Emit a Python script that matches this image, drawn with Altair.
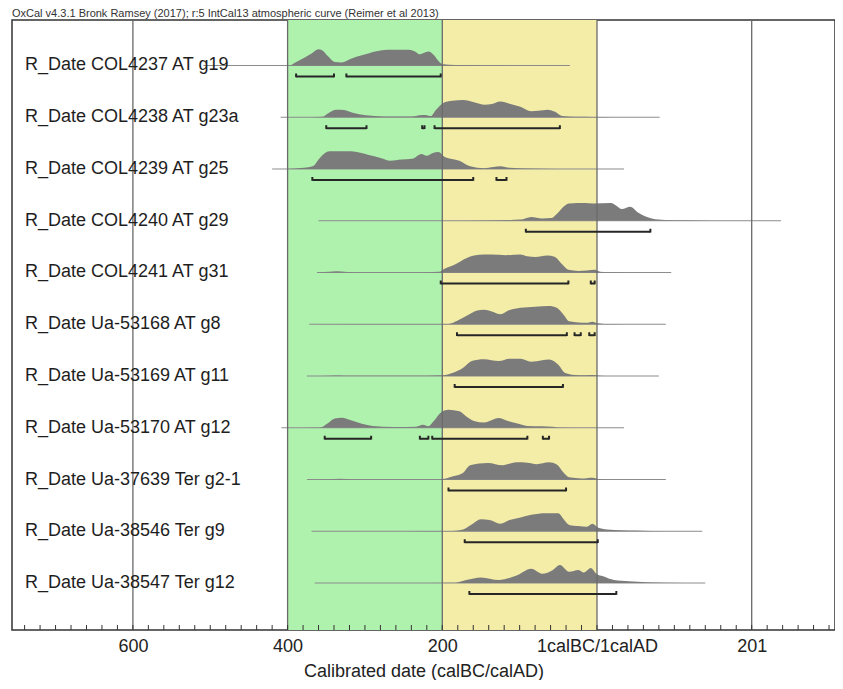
import altair as alt
import pandas as pd

header = "OxCal v4.3.1 Bronk Ramsey (2017); r:5 IntCal13 atmospheric curve (Reimer et al 2013)"

labels = [
    "R_Date COL4237 AT g19", "R_Date COL4238 AT g23a", "R_Date COL4239 AT g25",
    "R_Date COL4240 AT g29", "R_Date COL4241 AT g31", "R_Date Ua-53168 AT g8",
    "R_Date Ua-53169 AT g11", "R_Date Ua-53170 AT g12", "R_Date Ua-37639 Ter g2-1",
    "R_Date Ua-38546 Ter g9", "R_Date Ua-38547 Ter g12",
]

# probability curves (year: negative = BC, 0 = 1calBC/1calAD boundary), relative density
dens_years = [
    [-410, -397, -390, -379, -369, -360, -355, -348, -339, -330, -318, -304, -285, -271, -243, -236, -229, -218, -211, -204, -199, -183, -145, -100],
    [-370, -355, -348, -337, -327, -316, -299, -276, -239, -229, -222, -215, -208, -197, -187, -173, -159, -145, -136, -125, -113, -99, -85, -76, -64, -55, -45, -29, -6, 20],
    [-402, -379, -367, -358, -346, -318, -306, -295, -281, -267, -253, -239, -227, -220, -213, -205, -197, -178, -164, -146, -134, -125, -113, -90, -52, -20],
    [-200, -145, -99, -85, -71, -59, -52, -43, -36, -15, -6, 18, 25, 32, 43, 53, 62, 71, 88, 116, 148, 180],
    [-362, -346, -337, -323, -300, -239, -204, -197, -183, -169, -159, -146, -127, -118, -99, -90, -80, -64, -55, -45, -37, -24, -13, -3, 4, 22, 60],
    [-372, -250, -192, -180, -169, -155, -146, -134, -125, -113, -99, -80, -62, -52, -43, -36, -24, -13, -6, 1, 18, 60],
    [-375, -346, -332, -318, -220, -199, -187, -173, -162, -146, -127, -113, -99, -85, -71, -62, -50, -41, -24, -6, 4, 18, 60],
    [-400, -358, -348, -339, -330, -318, -304, -290, -262, -234, -225, -218, -211, -201, -192, -178, -169, -159, -146, -127, -118, -104, -90, -71, -57, -48, -20],
    [-375, -346, -332, -318, -250, -201, -187, -173, -164, -141, -122, -104, -90, -78, -62, -52, -43, -36, -20, -6, 4, 22, 60],
    [-369, -250, -192, -173, -162, -150, -139, -125, -113, -99, -85, -66, -50, -43, -36, -24, -13, -6, 1, 13, 32, 50, 69, 111, 136],
    [-365, -250, -183, -169, -150, -127, -104, -85, -71, -57, -48, -36, -24, -17, -8, -1, 8, 22, 41, 64, 88, 140],
]
dens_vals = [
    [0, 0.5, 8, 20, 32, 43, 40, 25, 9, 8, 18, 27, 38, 42, 42, 38, 30, 37, 28, 10, 3, 1, 0.5, 0],
    [0, 1, 10, 20, 19, 12, 5, 2, 2, 5, 6, 3, 20, 40, 44, 46, 40, 33, 35, 42, 36, 28, 16, 17, 20, 15, 3, 1, 0.5, 0],
    [0, 3, 8, 30, 47, 47, 43, 37, 30, 22, 25, 27, 40, 35, 42, 45, 32, 22, 7, 2, 5, 7, 3, 1, 0.3, 0],
    [0, 0.5, 3, 10, 6, 7, 18, 38, 46, 47, 46, 47, 40, 31, 37, 22, 12, 6, 2, 1, 0.3, 0],
    [0, 2, 3, 1, 0.5, 0.5, 2, 10, 22, 38, 45, 48, 47, 46, 48, 43, 41, 45, 42, 22, 7, 4, 5, 7, 2, 0.5, 0],
    [0, 0.5, 1, 10, 22, 37, 39, 33, 27, 38, 44, 47, 49, 44, 25, 8, 5, 4, 7, 3, 0.5, 0],
    [0, 1, 1.5, 0.5, 1, 2, 8, 22, 40, 45, 40, 46, 46, 38, 42, 44, 30, 8, 2, 3, 1, 0.3, 0],
    [0, 1, 12, 25, 27, 20, 11, 5, 2, 3, 8, 4, 18, 42, 48, 44, 30, 18, 14, 26, 20, 12, 5, 4, 3, 0.5, 0],
    [0, 1, 2, 1, 0.5, 1, 8, 18, 38, 44, 38, 46, 45, 41, 46, 40, 18, 6, 3, 5, 1, 0.3, 0],
    [0, 0.3, 0.5, 5, 18, 32, 30, 20, 30, 37, 44, 48, 48, 32, 17, 14, 12, 20, 10, 5, 3, 2, 1, 0.3, 0],
    [0, 0.3, 1, 8, 15, 8, 20, 38, 25, 35, 48, 30, 35, 28, 40, 25, 18, 8, 5, 2, 0.5, 0],
]

# extent of each curve's thin line
line_start = [-509, -409, -420, -360, -362, -372, -375, -408, -375, -369, -365]
line_end = [-35, 81, 35, 238, 96, 89, 80, 35, 89, 136, 140]

# highest posterior density ranges
ranges = [
    [(-389, -340), (-324, -202)],
    [(-350, -298), (-226, -223), (-210, -48)],
    [(-368, -160), (-130, -117)],
    [(-92, 69)],
    [(-202, -37), (-8, -3)],
    [(-181, -39), (-29, -21), (-10, -3)],
    [(-184, -44)],
    [(-352, -292), (-229, -218), (-213, -90), (-70, -62)],
    [(-192, -40)],
    [(-171, 1)],
    [(-165, 25)],
]

band_names = ["green", "yellow"]
band_start = [-400, -200]
band_end = [-200, 0]

major_ticks = [-600, -400, -200, 0, 200]
minor_ticks = list(range(-740, 301, 20))

# ---------------- layout constants ----------------
W, H = 823, 610
ROW_PX = 51.75
K = 18.0 / 48 / ROW_PX          # density units -> row units
BRK = 11 / ROW_PX               # bracket offset below baseline
BRK_TICK = 3 / ROW_PX           # bracket end tick height

XS = alt.Scale(domain=[-756.3, 307.7], nice=False, zero=False)
YS = alt.Scale(domain=[-0.879, 10.908], nice=False, zero=False, reverse=True)

# ---------------- tables ----------------
dens_rows = []
for i, (ys, vs) in enumerate(zip(dens_years, dens_vals)):
    for y, v in zip(ys, vs):
        dens_rows.append({"grp": f"r{i}", "yb": float(i), "year": y, "dens": v})
dens_df = pd.DataFrame(dens_rows)

lab_df = pd.DataFrame({"idx": [float(i) for i in range(len(labels))], "label": labels,
                       "start": line_start, "end": line_end})

rng_rows = []
end_rows = []
for i, rr in enumerate(ranges):
    for a, b in rr:
        rng_rows.append({"idx": float(i), "a": a, "b": b})
        end_rows.append({"idx": float(i), "x": a})
        end_rows.append({"idx": float(i), "x": b})
rng_df = pd.DataFrame(rng_rows)
end_df = pd.DataFrame(end_rows)

band_df = pd.DataFrame({"band": band_names, "start": band_start, "end": band_end})
major_df = pd.DataFrame({"t": major_ticks})
minor_df = pd.DataFrame({"t": minor_ticks})

label_expr = ("datum.value == 0 ? '1calBC/1calAD' : "
              "(datum.value < 0 ? toString(-datum.value) : toString(datum.value + 1))")
XAXIS = alt.Axis(values=major_ticks, labelExpr=label_expr, grid=False, ticks=False,
                 tickSize=0, domain=False, labelFontSize=18, labelFont="Liberation Sans",
                 labelColor="#222222", labelPadding=7, labelFlush=False,
                 title="Calibrated date (calBC/calAD)", titleFontSize=18,
                 titleFont="Liberation Sans", titleFontWeight="normal",
                 titleColor="#222222", titlePadding=7)


def X(field):
    return alt.X(field, scale=XS, axis=XAXIS)


def Y(field):
    return alt.Y(field, scale=YS, axis=None)


bands = alt.Chart(band_df).mark_rect().encode(
    x=X("start:Q"),
    x2="end:Q",
    y=alt.value(0), y2=alt.value(H),
    color=alt.Color("band:N", scale=alt.Scale(domain=band_names, range=["#aef2ae", "#f3eda8"]), legend=None),
)

baselines = alt.Chart(lab_df).mark_rule(color="#8c8c8c", strokeWidth=1).encode(
    x=X("start:Q"),
    x2="end:Q",
    y=Y("idx:Q"),
)

areas = alt.Chart(dens_df).transform_calculate(
    yt=f"datum.yb - datum.dens * {K:.6f}"
).mark_area(color="#7b7b7b", opacity=1, orient="vertical", interpolate="monotone").encode(
    x=X("year:Q"),
    y=Y("yt:Q"),
    y2=alt.Y2("yb"),
    detail="grp:N",
)

grid = alt.Chart(major_df).mark_rule(color="#6a6a6a", strokeWidth=1.3).encode(
    x=X("t:Q"),
    y=alt.value(0), y2=alt.value(H),
)

brk_lines = alt.Chart(rng_df).transform_calculate(
    by=f"datum.idx + {BRK:.5f}"
).mark_rule(color="#262626", strokeWidth=2).encode(
    x=X("a:Q"),
    x2="b:Q",
    y=Y("by:Q"),
)

brk_ends = alt.Chart(end_df).transform_calculate(
    by=f"datum.idx + {BRK + 0.015:.5f}", bt=f"datum.idx + {BRK - BRK_TICK:.5f}"
).mark_rule(color="#262626", strokeWidth=2).encode(
    x=X("x:Q"),
    y=Y("by:Q"),
    y2="bt:Q",
)

ticks = alt.Chart(minor_df).mark_rule(color="#333333", strokeWidth=1).encode(
    x=X("t:Q"),
    y=alt.value(H - 5), y2=alt.value(H),
)

texts = alt.Chart(lab_df).mark_text(
    align="left", baseline="middle", fontSize=18, font="Liberation Sans", color="#1e1e1e"
).encode(
    x=alt.value(13),
    y=Y("idx:Q"),
    text="label:N",
)

chart = alt.layer(
    bands, baselines, areas, grid, brk_lines, brk_ends, ticks, texts
).properties(
    width=W, height=H,
    padding={"left": 4, "right": 0, "top": 0, "bottom": 0},
    title=alt.TitleParams(header, anchor="start", frame="group", fontSize=11,
                          font="Liberation Sans", fontWeight="normal", color="#333333",
                          offset=0),
).configure(background="white").configure_view(stroke="#333333", strokeWidth=1.5)

chart.save("out.html", embed_options={"renderer": "svg", "actions": False})
